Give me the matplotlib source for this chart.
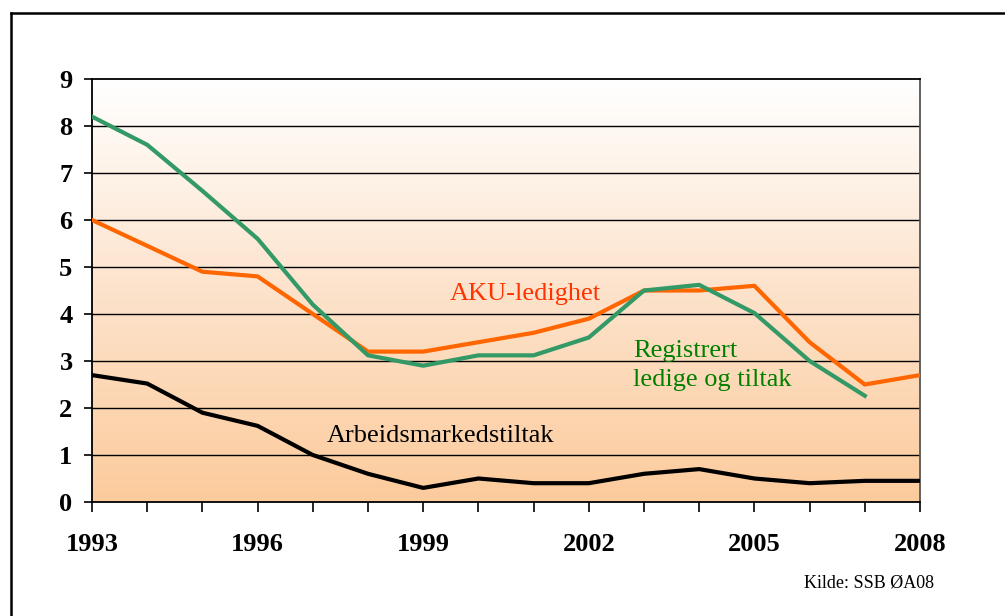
import numpy as np
import matplotlib.pyplot as plt
from matplotlib.lines import Line2D
from matplotlib.colors import LinearSegmentedColormap

years = list(range(1993, 2009))
aku = [6.0, 5.45, 4.9, 4.8, 4.0, 3.2, 3.2, 3.4, 3.6, 3.9, 4.5, 4.5, 4.6, 3.4, 2.5, 2.7]
registrert = [8.2, 7.6, 6.62, 5.6, 4.2, 3.12, 2.9, 3.12, 3.12, 3.5, 4.5, 4.62, 4.02, 3.0, 2.26]
tiltak = [2.7, 2.52, 1.9, 1.62, 1.0, 0.6, 0.3, 0.5, 0.4, 0.4, 0.6, 0.7, 0.5, 0.4, 0.45, 0.45]
year_labels = [1993, 1996, 1999, 2002, 2005, 2008]

plt.rcParams['font.family'] = ['Liberation Serif', 'DejaVu Serif']

fig = plt.figure(figsize=(10.05, 6.16), dpi=100)
ax = fig.add_axes([92 / 1005, 1 - 502 / 616, 828 / 1005, 423 / 616])

# bakgrunn med gradient (hvit øverst, fersken nederst)
cmap = LinearSegmentedColormap.from_list('bg', ['#FCCB9C', '#FDE3CC', '#FFFFFF'])
grad = np.linspace(0, 1, 256).reshape(-1, 1)
ax.imshow(grad, extent=[1993, 2008, 0, 9], aspect='auto', origin='lower',
          cmap=cmap, zorder=0)

for y in range(1, 9):
    ax.axhline(y, color='black', lw=1.0, zorder=1)

ax.plot(years, tiltak, color='black', lw=3, zorder=3)
ax.plot(years, aku, color='#FF6600', lw=3, zorder=3)
ax.plot(years[:len(registrert)], registrert, color='#339966', lw=3, zorder=4)

ax.set_xlim(1993, 2008)
ax.set_ylim(0, 9)
ax.set_yticks(range(0, 10))
ax.set_xticks(years)
ax.set_xticklabels([str(y) if y in year_labels else '' for y in years])
ax.tick_params(axis='y', direction='out', length=6, width=1.2, pad=8, labelsize=19)
ax.tick_params(axis='x', direction='out', length=7, width=1.2, pad=15, labelsize=19)
for lab in ax.get_xticklabels() + ax.get_yticklabels():
    lab.set_fontweight('bold')

for side in ['left', 'bottom', 'top']:
    ax.spines[side].set_linewidth(1.3)
ax.spines['right'].set_color('#555555')
ax.spines['right'].set_linewidth(1.3)

ax.text(2000.85, 4.42, 'AKU-ledighet', color='#FF3300', fontsize=19,
        ha='center', va='center', zorder=5)
ax.text(2002.8, 2.9, 'Registrert\nledige og tiltak', color='#008000', fontsize=19,
        ha='left', va='center', linespacing=1.4, zorder=5)
ax.text(1997.25, 1.4, 'Arbeidsmarkedstiltak', color='black', fontsize=19,
        ha='left', va='center', zorder=5)

fig.text(804 / 1005, 1 - 583 / 616, 'Kilde: SSB ØA08', fontsize=13, va='center')

# ramme rundt figuren
fig.add_artist(Line2D([11 / 1005, 11 / 1005], [0, 1 - 13 / 616],
                      transform=fig.transFigure, color='black', lw=1.8))
fig.add_artist(Line2D([11 / 1005, 1], [1 - 13 / 616, 1 - 13 / 616],
                      transform=fig.transFigure, color='black', lw=1.8))

fig.savefig('out.png', dpi=100)
